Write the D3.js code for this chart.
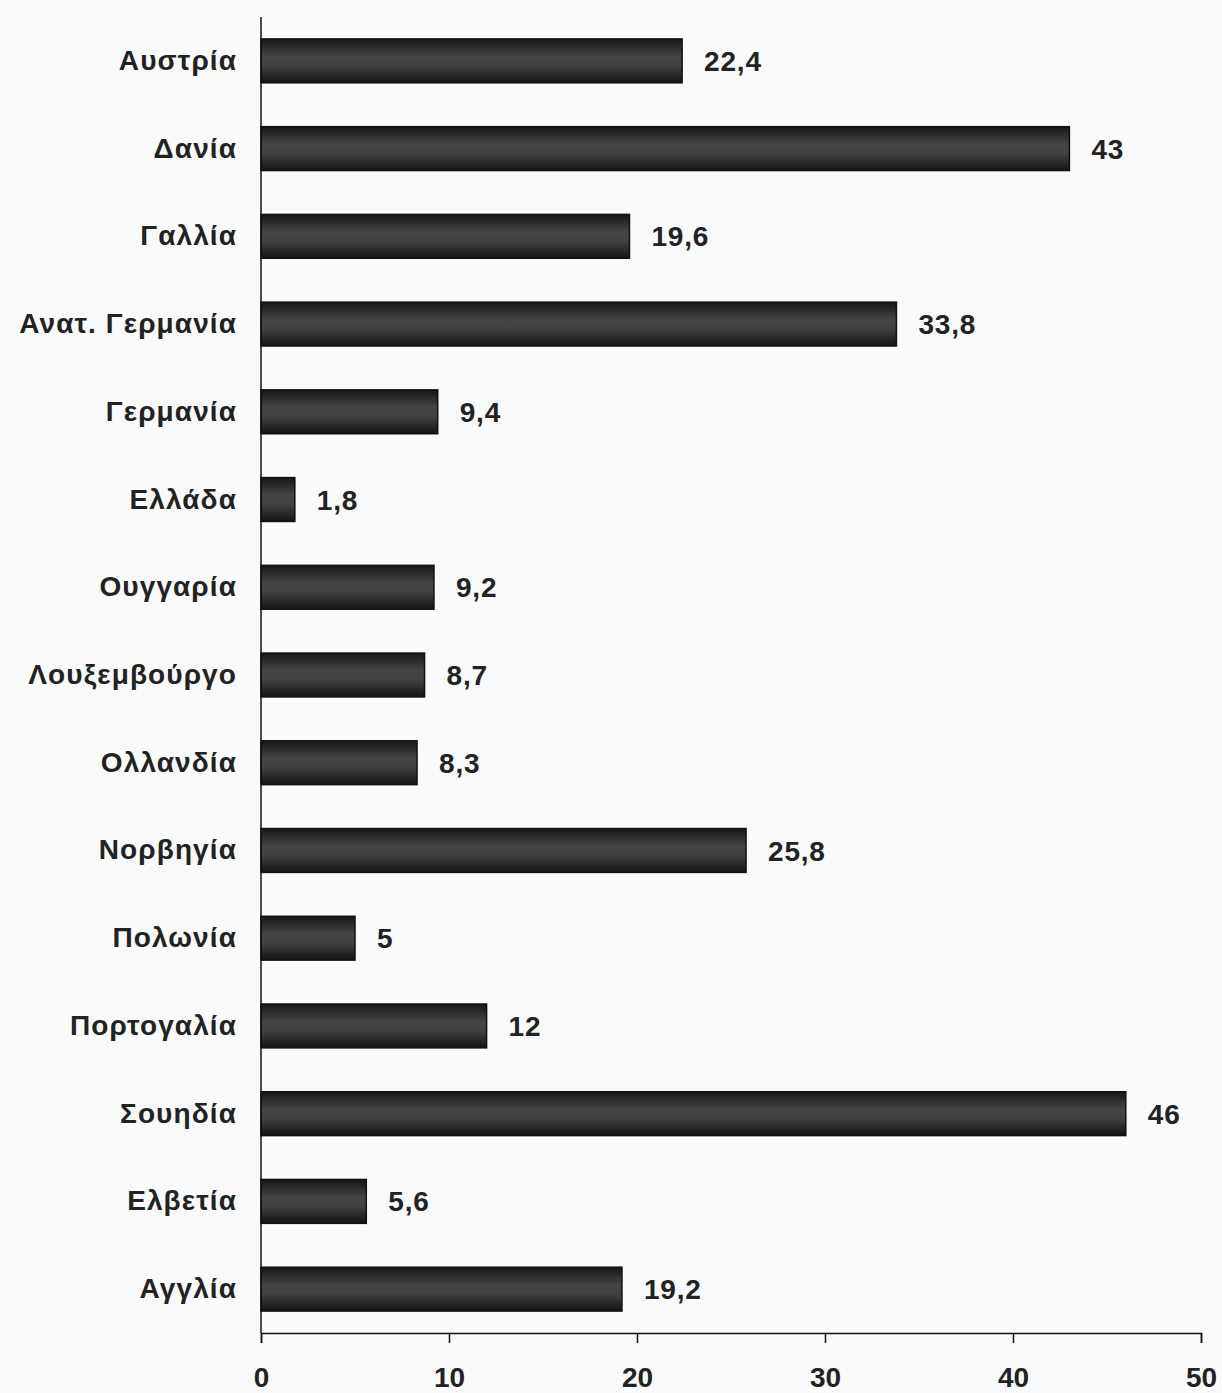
<!DOCTYPE html>
<html>
<head>
<meta charset="utf-8">
<script src="https://cdn.jsdelivr.net/npm/d3@7"></script>
<style>
  html, body { margin: 0; padding: 0; background: #f8fafc; }
  svg { display: block; font-family: "Liberation Sans", Arial, sans-serif; font-weight: bold; }
</style>
</head>
<body>
<svg id="chart" width="1222" height="1393"></svg>
<script>
const countries = ['Αυστρία', 'Δανία', 'Γαλλία', 'Ανατ. Γερμανία', 'Γερμανία', 'Ελλάδα', 'Ουγγαρία',
  'Λουξεμβούργο', 'Ολλανδία', 'Νορβηγία', 'Πολωνία', 'Πορτογαλία', 'Σουηδία', 'Ελβετία', 'Αγγλία'];
const values = [22.4, 43, 19.6, 33.8, 9.4, 1.8, 9.2, 8.7, 8.3, 25.8, 5, 12, 46, 5.6, 19.2];
const xTicks = [0, 10, 20, 30, 40, 50];

const svg = d3.select('#chart');
const plotLeft = 261, plotRight = 1201, plotTop = 17, plotBottom = 1333;

const x = d3.scaleLinear().domain([0, 50]).range([plotLeft, plotRight]);
const y = d3.scaleBand().domain(countries).range([plotTop, plotBottom]).paddingInner(0.5).paddingOuter(0.25);

// cylinder-like shading of the bars
const grad = svg.append('defs').append('linearGradient')
  .attr('id', 'barShade').attr('x1', 0).attr('y1', 0).attr('x2', 0).attr('y2', 1);
grad.append('stop').attr('offset', '0%').attr('stop-color', '#161616');
grad.append('stop').attr('offset', '40%').attr('stop-color', '#454547');
grad.append('stop').attr('offset', '60%').attr('stop-color', '#424244');
grad.append('stop').attr('offset', '100%').attr('stop-color', '#141414');

svg.selectAll('rect.bar')
  .data(countries)
  .join('rect')
  .attr('class', 'bar')
  .attr('x', x(0))
  .attr('y', d => y(d))
  .attr('width', (d, i) => x(values[i]) - x(0))
  .attr('height', y.bandwidth())
  .attr('fill', 'url(#barShade)')
  .attr('stroke', '#111')
  .attr('stroke-width', 1.5);

const fmt = v => String(v).replace('.', ',');

svg.selectAll('text.val')
  .data(countries)
  .join('text')
  .attr('class', 'val')
  .attr('x', (d, i) => x(values[i]) + 22)
  .attr('y', d => y(d) + y.bandwidth() / 2)
  .attr('dy', '0.36em')
  .attr('font-size', 28)
  .attr('letter-spacing', 0.8)
  .attr('fill', '#222')
  .text((d, i) => fmt(values[i]));

// category axis (no ticks)
const yAxis = svg.append('g')
  .attr('transform', `translate(${plotLeft},0)`)
  .call(d3.axisLeft(y).tickSize(0).tickPadding(24));
yAxis.select('.domain').attr('d', `M0,${plotTop}V${plotBottom}`).attr('stroke', '#111').attr('stroke-width', 1.5);
yAxis.selectAll('text').attr('font-size', 28).attr('fill', '#222')
  .attr('letter-spacing', 1.1)
  .attr('font-family', '"Liberation Sans", Arial, sans-serif').attr('font-weight', 'bold');

// value axis
const xAxis = svg.append('g')
  .attr('transform', `translate(0,${plotBottom})`)
  .call(d3.axisBottom(x).tickValues(xTicks).tickSize(10).tickSizeOuter(10).tickPadding(24));
xAxis.select('.domain').attr('stroke', '#111').attr('stroke-width', 1.5);
xAxis.selectAll('.tick line').attr('stroke', '#111').attr('stroke-width', 1.5);
xAxis.selectAll('text').attr('font-size', 28).attr('fill', '#222')
  .attr('font-family', '"Liberation Sans", Arial, sans-serif').attr('font-weight', 'bold');
</script>
</body>
</html>
